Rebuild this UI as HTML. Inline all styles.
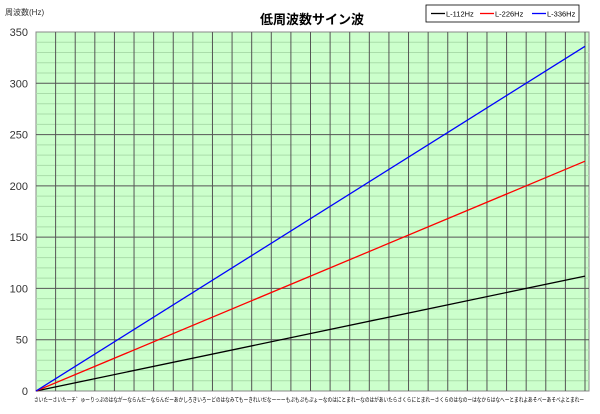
<!DOCTYPE html>
<html><head><meta charset="utf-8"><style>
body{margin:0;background:#fff;width:600px;height:409px;overflow:hidden}
text{font-family:"Liberation Sans","Noto Sans CJK JP",sans-serif}
</style></head><body>
<svg width="600" height="409" xmlns="http://www.w3.org/2000/svg">
<rect x="36" y="32" width="553" height="359" fill="#ccffcc" stroke="#888" stroke-width="1"/>
<g stroke="#aaddaa" stroke-width="1" id="minor"></g>
<g stroke="#555" stroke-width="1" id="major"></g>
<g stroke="#555" stroke-width="1" id="vert"></g>
<g font-size="11" fill="#333" text-anchor="end" id="ylab"></g>
<polyline points="36,391 585,276.1" fill="none" stroke="#000" stroke-width="1.3"/>
<polyline points="36,391 585,161.2" fill="none" stroke="#ff0000" stroke-width="1.3"/>
<polyline points="36,391 585,46.3" fill="none" stroke="#0000ff" stroke-width="1.3"/>
<text x="5" y="15" font-size="8" fill="#333">周波数(Hz)</text>
<text x="312" y="24" font-size="13" font-weight="bold" text-anchor="middle" fill="#000">低周波数サイン波</text>
<rect x="426" y="5" width="153" height="17" fill="#fff" stroke="#000" stroke-width="0.8"/>
<line x1="431" y1="13.5" x2="445" y2="13.5" stroke="#000" stroke-width="1.3"/>
<text x="446" y="16.5" font-size="7.5">L-112Hz</text>
<line x1="480" y1="13.5" x2="494" y2="13.5" stroke="#f00" stroke-width="1.3"/>
<text x="495" y="16.5" font-size="7.5">L-226Hz</text>
<line x1="532" y1="13.5" x2="546" y2="13.5" stroke="#00f" stroke-width="1.3"/>
<text x="547" y="16.5" font-size="7.5">L-336Hz</text>
<text x="34" y="402" font-size="6" fill="#000" textLength="550" lengthAdjust="spacingAndGlyphs">さいたーさいたーチ゛ゅーりっぷのはながーならんだーならんだーあかしろきいろーどのはなみてもーきれいだなーーーもぷもぷもぷょーなのはにとまれーなのはがあいたらさくらにとまれーさくらのはなのーはなからはなへーとまれよあそべーあそべよとまれー</text>
</svg>
<script>
var ns="http://www.w3.org/2000/svg";
function L(g,x1,y1,x2,y2){var l=document.createElementNS(ns,"line");l.setAttribute("x1",x1);l.setAttribute("y1",y1);l.setAttribute("x2",x2);l.setAttribute("y2",y2);document.getElementById(g).appendChild(l);}
var s=359/350;
for(var v=10;v<350;v+=10){var y=391-v*s;if(v%50)L("minor",36,y,589,y);else L("major",36,y,589,y);}
for(var i=1;i<=28;i++){var x=36+i*549/28;L("vert",x,32,x,391);}
var g=document.getElementById("ylab");
for(var v=0;v<=350;v+=50){var t=document.createElementNS(ns,"text");t.setAttribute("x",28);t.setAttribute("y",391-v*s+4);t.textContent=v;g.appendChild(t);}
</script>
</body></html>
